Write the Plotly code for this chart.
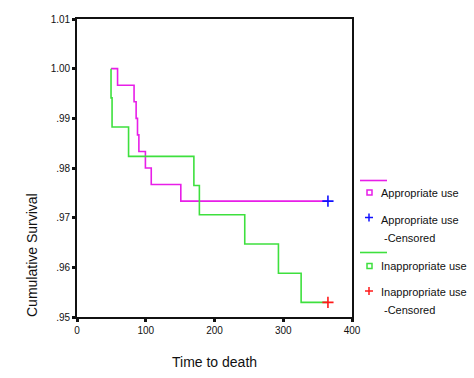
import plotly.graph_objects as go

# ---- data ----
app_time = [49.5, 59, 83, 86, 88, 90, 99.5, 108, 151]
app_surv = [1.0, 0.99667, 0.99333, 0.99, 0.98667, 0.98333, 0.98, 0.97667, 0.97333]
app_censor_time = [365]

inapp_time = [49.5, 49.5, 51, 75, 170, 178, 244, 293, 326]
inapp_surv = [1.0, 0.99412, 0.98824, 0.98235, 0.97647, 0.97059, 0.96471, 0.95882, 0.95294]
inapp_censor_time = [365]

y_ticks = [0.95, 0.96, 0.97, 0.98, 0.99, 1.00, 1.01]
y_tick_text = [".95", ".96", ".97", ".98", ".99", "1.00", "1.01"]
x_ticks = [0, 100, 200, 300, 400]

MAG = "#e81ee8"
GRN = "#3ee03e"
FONT = "Liberation Sans, Arial, sans-serif"

# plot area in pixels
L, R, T, B = 77, 352, 19, 317
W, H = 474, 378


def px(x):
    return (x - L) / (R - L)


def py(y):
    return (B - y) / (B - T)


fig = go.Figure()

fig.add_trace(go.Scatter(
    x=app_time + app_censor_time, y=app_surv + [app_surv[-1]],
    mode="lines", line=dict(color=MAG, width=1.6, shape="hv"),
    showlegend=False, hoverinfo="skip"))
fig.add_trace(go.Scatter(
    x=inapp_time + inapp_censor_time, y=inapp_surv + [inapp_surv[-1]],
    mode="lines", line=dict(color=GRN, width=1.6, shape="hv"),
    showlegend=False, hoverinfo="skip"))
fig.add_trace(go.Scatter(
    x=app_censor_time, y=[app_surv[-1]], mode="markers",
    marker=dict(symbol="cross-thin", size=8, line=dict(color="#1010ff", width=1.6)),
    showlegend=False))
fig.add_trace(go.Scatter(
    x=inapp_censor_time, y=[inapp_surv[-1]], mode="markers",
    marker=dict(symbol="cross-thin", size=8, line=dict(color="#ff1a1a", width=1.6)),
    showlegend=False))

shapes = []
annotations = []

# legend (drawn manually)
def line_sample(yy, color):
    shapes.append(dict(type="line", xref="paper", yref="paper",
                       x0=px(360), x1=px(387), y0=py(yy), y1=py(yy),
                       line=dict(color=color, width=1.6)))


def square(cx, cy, color):
    shapes.append(dict(type="rect", xref="paper", yref="paper",
                       x0=px(cx - 2.5), x1=px(cx + 2.5), y0=py(cy + 2.5), y1=py(cy - 2.5),
                       line=dict(color=color, width=1.5)))


def plus(cx, cy, color):
    shapes.append(dict(type="line", xref="paper", yref="paper",
                       x0=px(cx - 4), x1=px(cx + 4), y0=py(cy), y1=py(cy),
                       line=dict(color=color, width=1.5)))
    shapes.append(dict(type="line", xref="paper", yref="paper",
                       x0=px(cx), x1=px(cx), y0=py(cy - 4), y1=py(cy + 4),
                       line=dict(color=color, width=1.5)))


def text(x, y, s, size=11, **kw):
    annotations.append(dict(text=s, xref="paper", yref="paper", x=px(x), y=py(y),
                            showarrow=False, xanchor="left", yanchor="middle",
                            font=dict(family=FONT, size=size, color="#111"), **kw))


line_sample(180.5, MAG)
square(369.5, 192.5, MAG)
text(379, 193, "Appropriate use")
plus(369, 217.5, "#1010ff")
text(379, 220, "Appropriate use")
text(382, 238, "-Censored")
line_sample(252.5, GRN)
square(369.5, 266, GRN)
text(379, 266, "Inappropriate use")
plus(369, 291, "#ff1a1a")
text(379, 292, "Inappropriate use")
text(382, 310, "-Censored")

# axis titles
annotations.append(dict(text="Cumulative Survival", xref="paper", yref="paper",
                        x=px(32), y=py(255), showarrow=False, textangle=-90,
                        xanchor="center", yanchor="middle",
                        font=dict(family=FONT, size=14, color="#111")))
annotations.append(dict(text="Time to death", xref="paper", yref="paper",
                        x=px(214.5), y=py(362), showarrow=False,
                        xanchor="center", yanchor="middle",
                        font=dict(family=FONT, size=14, color="#111")))

fig.update_layout(
    width=W, height=H,
    margin=dict(l=L, r=W - R, t=T, b=H - B, pad=0),
    paper_bgcolor="white", plot_bgcolor="white",
    shapes=shapes, annotations=annotations,
    showlegend=False,
    xaxis=dict(range=[0, 400], tickvals=x_ticks, ticks="outside", ticklen=3,
               tickwidth=3, tickcolor="#111", showline=True, linecolor="#111",
               linewidth=1.6, mirror=True, showgrid=False, zeroline=False,
               tickfont=dict(family=FONT, size=10, color="#111")),
    yaxis=dict(range=[0.95, 1.01], tickvals=y_ticks, ticktext=y_tick_text,
               ticks="outside", ticklen=3, tickwidth=3, tickcolor="#111",
               showline=True, linecolor="#111", linewidth=1.6, mirror=True,
               showgrid=False, zeroline=False,
               tickfont=dict(family=FONT, size=10, color="#111")),
)

fig.write_html(
    "out.html",
    config={"displayModeBar": False},
    post_script="document.body.style.margin='0';document.body.style.overflow='hidden';",
)
